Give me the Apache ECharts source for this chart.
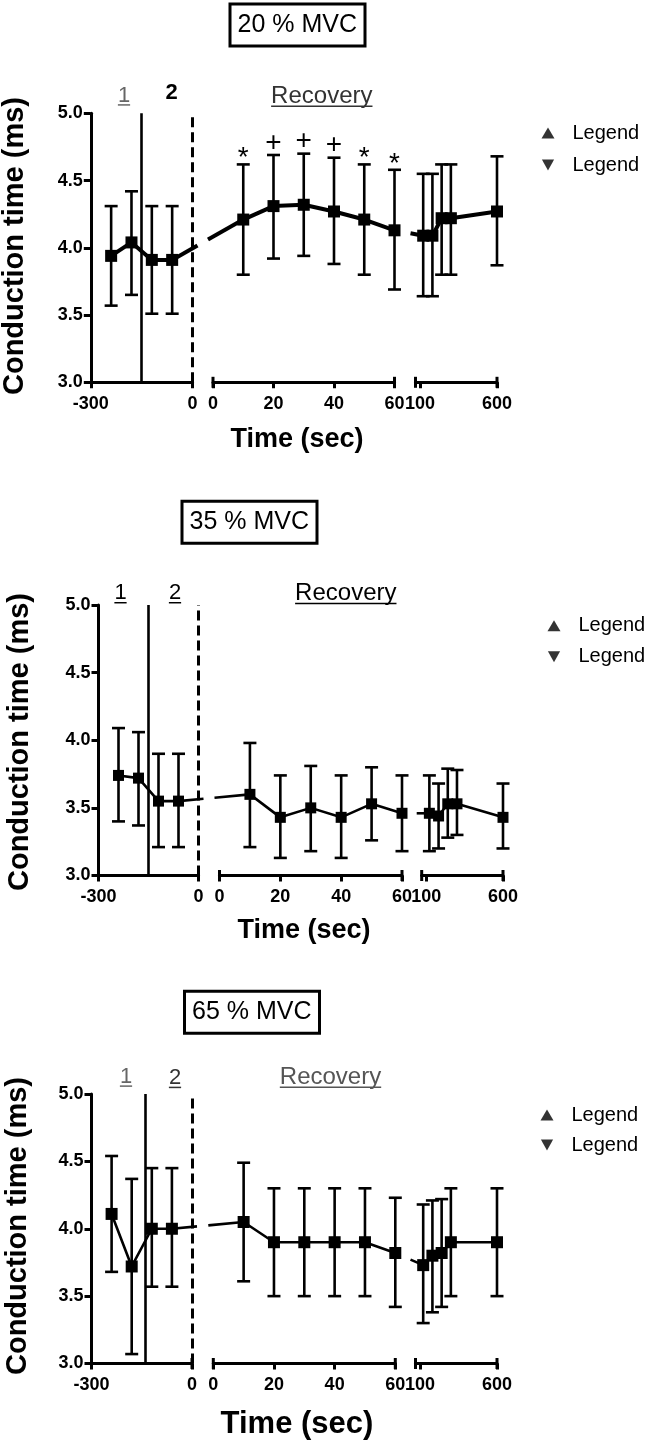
<!DOCTYPE html>
<html><head><meta charset="utf-8">
<script src="https://cdn.jsdelivr.net/npm/echarts@6/dist/echarts.min.js"></script>
<style>html,body{margin:0;padding:0;background:#fff}#c{width:650px;height:1446px}</style>
</head><body><div id="c"></div>
<script>
// ---------------- data ----------------
const panelTitles = ['20 % MVC', '35 % MVC', '65 % MVC'];
const preTimes  = [-240, -180, -120, -60];
const recTimes  = [10, 20, 30, 40, 50, 60];
const lateTimes = [120, 180, 240, 300, 600];
const preTicks  = [-300, 0];
const recTicks  = [0, 20, 40, 60];
const lateTicks = [100, 600];
const yTicks    = [3.0, 3.5, 4.0, 4.5, 5.0];
const phaseDivider = [-150, -150, -140];
const phaseLabels = ['1', '2', 'Recovery'];
const yTitle = 'Conduction time (ms)';
const xTitle = 'Time (sec)';
const legendNames = ['Legend', 'Legend'];

// Panel 1 : 20 % MVC
const p1PreMean  = [3.94, 4.04, 3.91, 3.91];
const p1PreLo    = [3.57, 3.65, 3.51, 3.51];
const p1PreHi    = [4.31, 4.42, 4.31, 4.31];
const p1RecMean  = [4.21, 4.31, 4.32, 4.27, 4.21, 4.13];
const p1RecLo    = [3.80, 3.92, 3.94, 3.88, 3.80, 3.69];
const p1RecHi    = [4.62, 4.69, 4.70, 4.67, 4.62, 4.58];
const p1LateMean = [4.09, 4.09, 4.22, 4.22, 4.27];
const p1LateLo   = [3.64, 3.64, 3.80, 3.80, 3.87];
const p1LateHi   = [4.55, 4.55, 4.62, 4.62, 4.68];
const p1RecSig   = ['*', '+', '+', '+', '*', '*'];

// Panel 2 : 35 % MVC
const p2PreMean  = [3.74, 3.72, 3.55, 3.55];
const p2PreLo    = [3.40, 3.37, 3.21, 3.21];
const p2PreHi    = [4.09, 4.06, 3.90, 3.90];
const p2RecMean  = [3.60, 3.43, 3.50, 3.43, 3.53, 3.46];
const p2RecLo    = [3.21, 3.13, 3.18, 3.13, 3.26, 3.18];
const p2RecHi    = [3.98, 3.74, 3.81, 3.74, 3.80, 3.74];
const p2LateMean = [3.46, 3.44, 3.53, 3.53, 3.43];
const p2LateLo   = [3.18, 3.20, 3.28, 3.30, 3.20];
const p2LateHi   = [3.74, 3.68, 3.79, 3.78, 3.68];

// Panel 3 : 65 % MVC
const p3PreMean  = [4.11, 3.72, 4.00, 4.00];
const p3PreLo    = [3.68, 3.07, 3.57, 3.57];
const p3PreHi    = [4.54, 4.37, 4.45, 4.45];
const p3RecMean  = [4.05, 3.90, 3.90, 3.90, 3.90, 3.82];
const p3RecLo    = [3.61, 3.50, 3.50, 3.50, 3.50, 3.42];
const p3RecHi    = [4.49, 4.30, 4.30, 4.30, 4.30, 4.23];
const p3LateMean = [3.73, 3.80, 3.82, 3.90, 3.90];
const p3LateLo   = [3.30, 3.38, 3.42, 3.50, 3.50];
const p3LateHi   = [4.18, 4.21, 4.22, 4.30, 4.30];

// ---------------- structure ----------------
const segRanges = [[-300, 0], [0, 60], [70, 600]];
const segTimes = [preTimes, recTimes, lateTimes];
const panels = [
  {segs: [[p1PreMean, p1PreLo, p1PreHi], [p1RecMean, p1RecLo, p1RecHi], [p1LateMean, p1LateLo, p1LateHi]], sig: [null, p1RecSig, null]},
  {segs: [[p2PreMean, p2PreLo, p2PreHi], [p2RecMean, p2RecLo, p2RecHi], [p2LateMean, p2LateLo, p2LateHi]], sig: [null, null, null]},
  {segs: [[p3PreMean, p3PreLo, p3PreHi], [p3RecMean, p3RecLo, p3RecHi], [p3LateMean, p3LateLo, p3LateHi]], sig: [null, null, null]}
];

// ---------------- layout / style ----------------
const FONT = '"Liberation Sans", Arial, Helvetica, sans-serif';
const layout = [
  {top: 113.3, height: 269, segs: [[90.8, 101.7], [213, 181.5], [415.5, 81.5]], lineW: 4, sym: 12,
   box: [229.5, 3.5], legend: [541.5, 123, 12], ytitle: [15, 246], xtitle: [297, 440, 27],
   lab1: [124, 95.5, '#666', 'normal', true], lab2: [171.7, 93, '#000', 'bold', false], rec: [321.8, 96, '#333']},
  {top: 605, height: 270.5, segs: [[98.5, 100], [219.5, 182.5], [421.7, 81.3]], lineW: 2.6, sym: 11,
   box: [181.5, 500.8], legend: [547.5, 615.7, 11], ytitle: [20, 742], xtitle: [304, 931, 27],
   lab1: [120.5, 593.3, '#000', 'normal', true], lab2: [175, 593.3, '#000', 'normal', true], rec: [345.8, 593.3, '#000']},
  {top: 1094, height: 269.5, segs: [[91.5, 100.5], [213.3, 182], [415.5, 81.5]], lineW: 2.6, sym: 12,
   box: [184, 990.8], legend: [540.5, 1105, 10], ytitle: [18, 1226], xtitle: [297, 1424, 31],
   lab1: [126, 1076.7, '#666', 'normal', true], lab2: [175, 1078, '#333', 'normal', true], rec: [330.5, 1077, '#555']}
];

const grids = [], xAxes = [], yAxes = [], series = [], titles = [], legends = [];

panels.forEach((pan, i) => {
  const L = layout[i];
  titles.push({
    text: panelTitles[i], left: L.box[0], top: L.box[1], padding: [9, 8, 9, 8],
    borderWidth: 3, borderColor: '#000',
    textStyle: {fontFamily: FONT, fontSize: 25, fontWeight: 'normal', color: '#000'}
  });
  for (let j = 0; j < 3; j++) {
    const gi = i * 3 + j;
    const [left, width] = L.segs[j];
    grids.push({left: left, width: width, top: L.top, height: L.height, containLabel: false});
    const ax = {
      type: 'value', gridIndex: gi, min: segRanges[j][0], max: segRanges[j][1],
      axisLine: {show: true, onZero: false, symbol: ['rect', 'rect'], symbolSize: [11, 3], lineStyle: {color: '#000', width: 3}},
      axisTick: {show: true, inside: false, length: 6, lineStyle: {color: '#000', width: 3}},
      axisLabel: {show: true, margin: 13, color: '#000', fontFamily: FONT, fontWeight: 'bold', fontSize: 18},
      splitLine: {show: false}
    };
    if (j === 0) { ax.interval = preTicks[1] - preTicks[0]; }
    if (j === 1) { ax.interval = recTicks[1] - recTicks[0]; }
    if (j === 2) {
      ax.axisTick.customValues = lateTicks;
      ax.axisLabel.customValues = lateTicks;
    }
    if (j === 0) ax.axisLine.symbol = ['none', 'rect'];
    xAxes.push(ax);
    yAxes.push({
      type: 'value', gridIndex: gi, min: yTicks[0], max: yTicks[yTicks.length - 1], interval: yTicks[1] - yTicks[0],
      show: j === 0, position: 'left',
      axisLine: {show: true, onZero: false, lineStyle: {color: '#000', width: 3}},
      axisTick: {show: true, inside: false, length: 7, lineStyle: {color: '#000', width: 3}},
      axisLabel: {margin: 8, color: '#000', fontFamily: FONT, fontWeight: 'bold', fontSize: 18,
                  formatter: v => v.toFixed(1)},
      splitLine: {show: false}
    });
    const [mean, lo, hi] = pan.segs[j];
    const times = segTimes[j];
    const lineSeries = {
      type: 'line', xAxisIndex: gi, yAxisIndex: gi, z: 4,
      data: times.map((t, k) => [t, mean[k]]),
      symbol: 'rect', symbolSize: L.sym, showSymbol: true,
      itemStyle: {color: '#000'}, lineStyle: {color: '#000', width: L.lineW},
      clip: false, silent: true
    };
    if (j === 0) {
      lineSeries.markLine = {
        silent: true, symbol: ['none', 'none'], label: {show: false}, animation: false,
        data: [
          {xAxis: phaseDivider[i], lineStyle: {type: 'solid', width: 2.6, color: '#000'}},
          {xAxis: segRanges[0][1], lineStyle: {type: [10, 5], width: 3, color: '#000'}}
        ]
      };
    }
    series.push(lineSeries);
    const sig = pan.sig[j];
    series.push({
      type: 'custom', xAxisIndex: gi, yAxisIndex: gi, z: 3, silent: true,
      data: times.map((t, k) => [t, lo[k], hi[k]]),
      encode: {x: 0, y: [1, 2]},
      renderItem: (params, api) => {
        const x = api.value(0);
        const pLo = api.coord([x, api.value(1)]);
        const pHi = api.coord([x, api.value(2)]);
        const hw = 6.5, st = {stroke: '#000', lineWidth: 2.6};
        const ch = [
          {type: 'line', shape: {x1: pLo[0], y1: pLo[1], x2: pHi[0], y2: pHi[1]}, style: st},
          {type: 'line', shape: {x1: pLo[0] - hw, y1: pLo[1], x2: pLo[0] + hw, y2: pLo[1]}, style: st},
          {type: 'line', shape: {x1: pHi[0] - hw, y1: pHi[1], x2: pHi[0] + hw, y2: pHi[1]}, style: st}
        ];
        if (sig && sig[params.dataIndex]) {
          const s = sig[params.dataIndex];
          ch.push({type: 'text', x: pHi[0], y: pHi[1] + (s === '*' ? -6 : -12),
            style: {text: s, fill: '#000', fontFamily: FONT, fontSize: 28, align: 'center', verticalAlign: 'middle'}});
        }
        return {type: 'group', children: ch};
      }
    });
  }
  // legend dummies
  const nA = 'P' + i + 'a', nB = 'P' + i + 'b';
  series.push({type: 'scatter', name: nA, xAxisIndex: i * 3 + 2, yAxisIndex: i * 3 + 2, data: [], itemStyle: {color: '#000'}});
  series.push({type: 'scatter', name: nB, xAxisIndex: i * 3 + 2, yAxisIndex: i * 3 + 2, data: [], itemStyle: {color: '#000'}});
  legends.push({
    orient: 'vertical', left: L.legend[0], top: L.legend[1], itemGap: L.legend[2], padding: 0,
    itemWidth: 13, itemHeight: 11, selectedMode: false,
    data: [{name: nA, icon: 'triangle'}, {name: nB, icon: 'path://M0,0L10,0L5,9Z'}],
    formatter: name => (name === nA ? legendNames[0] : legendNames[1]),
    textStyle: {fontFamily: FONT, fontSize: 20, color: '#000', padding: [0, 0, 0, 13]}
  });
});

const chart = echarts.init(document.getElementById('c'), null, {renderer: 'canvas'});
chart.setOption({
  animation: false, backgroundColor: '#fff',
  title: titles, legend: legends, grid: grids, xAxis: xAxes, yAxis: yAxes, series: series
});

// ---------------- graphics: axis titles, phase labels, gap connectors ----------------
const mctx = document.createElement('canvas').getContext('2d');
function textW(t, font) { mctx.font = font; return mctx.measureText(t).width; }
const graphics = [];
function addLabel(text, cx, cy, color, weight, fs, underline) {
  graphics.push({type: 'text', x: cx, y: cy, silent: true,
    style: {text: text, fill: color, fontFamily: FONT, fontWeight: weight, fontSize: fs, align: 'center', verticalAlign: 'middle'}});
  if (underline) {
    const w = textW(text, weight + ' ' + fs + 'px ' + FONT);
    const uy = cy + 0.36 * fs + 1.5;
    graphics.push({type: 'line', silent: true, shape: {x1: cx - w / 2, y1: uy, x2: cx + w / 2, y2: uy},
      style: {stroke: color, lineWidth: 1.5}});
  }
}
const ext = 5;
panels.forEach((pan, i) => {
  const L = layout[i];
  graphics.push({type: 'text', x: L.ytitle[0], y: L.ytitle[1], rotation: Math.PI / 2, silent: true,
    style: {text: yTitle, fill: '#000', fontFamily: FONT, fontWeight: 'bold', fontSize: 29, align: 'center', verticalAlign: 'middle'}});
  graphics.push({type: 'text', x: L.xtitle[0], y: L.xtitle[1], silent: true,
    style: {text: xTitle, fill: '#000', fontFamily: FONT, fontWeight: 'bold', fontSize: L.xtitle[2], align: 'center', verticalAlign: 'middle'}});
  addLabel(phaseLabels[0], L.lab1[0], L.lab1[1], L.lab1[2], L.lab1[3], 22, L.lab1[4]);
  addLabel(phaseLabels[1], L.lab2[0], L.lab2[1], L.lab2[2], L.lab2[3], 22, L.lab2[4]);
  addLabel(phaseLabels[2], L.rec[0], L.rec[1], L.rec[2], 'normal', 24, true);
  for (let j = 0; j < 2; j++) {
    const gA = i * 3 + j, gB = gA + 1;
    const tA = segTimes[j][segTimes[j].length - 1], vA = pan.segs[j][0][segTimes[j].length - 1];
    const tB = segTimes[j + 1][0], vB = pan.segs[j + 1][0][0];
    const A = chart.convertToPixel({gridIndex: gA}, [tA, vA]);
    const B = chart.convertToPixel({gridIndex: gB}, [tB, vB]);
    const xe = chart.convertToPixel({gridIndex: gA}, [segRanges[j][1], yTicks[0]])[0] + ext;
    const xs = chart.convertToPixel({gridIndex: gB}, [segRanges[j + 1][0], yTicks[0]])[0] - ext;
    const yAt = x => A[1] + (B[1] - A[1]) * (x - A[0]) / (B[0] - A[0]);
    const st = {stroke: '#000', lineWidth: L.lineW};
    graphics.push({type: 'line', silent: true, z: 10, shape: {x1: A[0], y1: A[1], x2: xe, y2: yAt(xe)}, style: st});
    graphics.push({type: 'line', silent: true, z: 10, shape: {x1: xs, y1: yAt(xs), x2: B[0], y2: B[1]}, style: st});
  }
});
chart.setOption({graphic: graphics});
</script>
</body></html>
